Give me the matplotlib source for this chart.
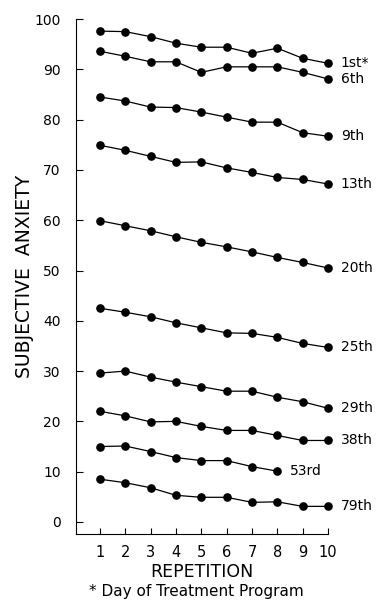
import matplotlib
matplotlib.use('Agg')
import matplotlib.pyplot as plt

# repeticoes e dias do programa
rep = [1, 2, 3, 4, 5, 6, 7, 8, 9, 10]
dias = ['1st*', '6th', '9th', '13th', '20th', '25th', '29th', '38th', '53rd', '79th']

d1 = [97.6, 97.5, 96.5, 95.2, 94.4, 94.4, 93.2, 94.2, 92.2, 91.2]
d6 = [93.6, 92.6, 91.5, 91.5, 89.4, 90.5, 90.5, 90.5, 89.4, 88.1]
d9 = [84.5, 83.7, 82.5, 82.4, 81.5, 80.5, 79.5, 79.5, 77.4, 76.7]
d13 = [74.9, 73.9, 72.7, 71.5, 71.6, 70.4, 69.5, 68.5, 68.1, 67.2]
d20 = [59.9, 58.9, 57.9, 56.7, 55.6, 54.7, 53.7, 52.6, 51.6, 50.5]
d25 = [42.5, 41.7, 40.8, 39.6, 38.6, 37.6, 37.5, 36.7, 35.5, 34.7]
d29 = [29.6, 30.0, 28.8, 27.8, 26.9, 26.0, 26.0, 24.8, 23.9, 22.6]
d38 = [22.0, 21.1, 19.9, 20.0, 19.0, 18.2, 18.2, 17.2, 16.2, 16.2]
d53 = [15.0, 15.1, 14.0, 12.8, 12.2, 12.2, 11.0, 10.1]
d79 = [8.5, 7.8, 6.8, 5.3, 4.9, 4.9, 3.9, 4.0, 3.1, 3.1]

series = [d1, d6, d9, d13, d20, d25, d29, d38, d53, d79]

fonte = 'DejaVu Sans'

fig = plt.figure(figsize=(3.85, 6.03), dpi=100)
ax = fig.add_axes([0.197, 0.1144, 0.655, 0.854])

for vals, lab in zip(series, dias):
    x = rep[:len(vals)]
    ax.plot(x, vals, color='black', lw=0.9, marker='o', ms=5.2,
            mfc='black', mec='black', clip_on=False)
    ax.text(x[-1] + 0.5, vals[-1], lab, fontsize=10, family=fonte,
            va='center', ha='left')

ax.set_xlim(0.05, 10)
ax.set_ylim(-2.4, 100)
ax.set_xticks(rep)
ax.set_yticks(range(0, 101, 10))
ax.spines['top'].set_visible(False)
ax.spines['right'].set_visible(False)
ax.spines['left'].set_linewidth(0.8)
ax.spines['bottom'].set_linewidth(0.8)
ax.tick_params(axis='y', direction='in', length=5, width=0.8, labelsize=10, pad=11)
ax.tick_params(axis='x', direction='in', length=4, width=0.8, labelsize=10.5, pad=8)

ax.set_ylabel('SUBJECTIVE  ANXIETY', fontsize=13.5, family=fonte, labelpad=0)
ax.set_xlabel('REPETITION', fontsize=12.5, family=fonte, labelpad=2)
fig.text(0.51, 0.006, '* Day of Treatment Program', fontsize=11, family=fonte,
         ha='center', va='bottom')

fig.savefig('out.png', dpi=100)
